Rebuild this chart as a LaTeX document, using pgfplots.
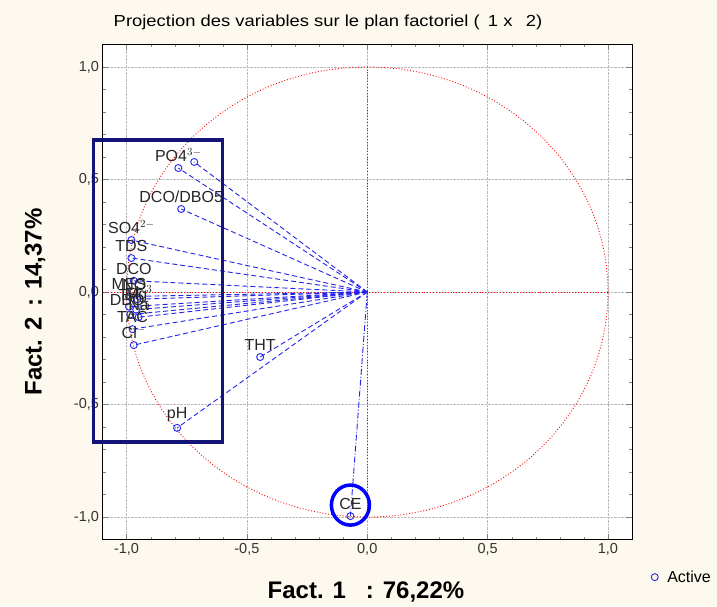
\documentclass[border=0pt]{standalone}
\usepackage{fontspec}
\setmainfont{Liberation Sans}
\usepackage{pgfplots}
\pgfplotsset{compat=1.18}
\definecolor{bgcream}{RGB}{253,249,239}
\definecolor{navy}{RGB}{20,20,120}
\definecolor{pblue}{RGB}{35,35,235}
\begin{document}
\begin{tikzpicture}[x=1pt,y=1pt]
\fill[bgcream] (0,0) rectangle (717,606);
\begin{axis}[
  at={(102.5pt,66.5pt)}, anchor=south west,
  scale only axis, width=529.5pt, height=495pt,
  xmin=-1.1, xmax=1.1, ymin=-1.1, ymax=1.1,
  axis background/.style={fill=white},
  xtick={-1,-0.5,0,0.5,1}, ytick={-1,-0.5,0,0.5,1},
  minor x tick num=4, minor y tick num=4,
  tick align=inside, major tick length=6pt, minor tick length=3pt,
  xtick pos=both, ytick pos=both,
  grid=major, major grid style={densely dotted, gray!55},
  /pgf/number format/.cd, fixed, fixed zerofill, precision=1, use comma, assume math mode=true,
  /pgfplots/.cd,
  ticklabel style={font=\fontsize{14.5}{16}\selectfont, text=black!80},
  clip=false,
  legend style={at={(1.036,-0.076)}, anchor=west, draw=none, fill=none, font=\fontsize{16}{18}\selectfont, inner sep=0pt, column sep=7pt},
  legend cell align=left,
  vec/.style={pblue, line width=0.9pt, dash pattern=on 5pt off 3pt, forget plot},
]
% unit circle and axes through the origin
\draw[red, dotted, line width=0.9pt] (axis cs:0,0) ellipse [x radius=1, y radius=1];
\draw[red, dotted, line width=0.9pt] (axis cs:-1.1,0) -- (axis cs:1,0);
\draw[red, dotted, line width=0.9pt] (axis cs:0,-1) -- (axis cs:0,1);
% vectors from the origin
\addplot[vec] coordinates {(0,0) (-0.785,0.551)};
\addplot[vec] coordinates {(0,0) (-0.719,0.578)};
\addplot[vec] coordinates {(0,0) (-0.773,0.369)};
\addplot[vec] coordinates {(0,0) (-0.980,0.231)};
\addplot[vec] coordinates {(0,0) (-0.980,0.151)};
\addplot[vec] coordinates {(0,0) (-0.970,0.050)};
\addplot[vec] coordinates {(0,0) (-0.990,-0.020)};
\addplot[vec] coordinates {(0,0) (-0.955,-0.032)};
\addplot[vec] coordinates {(0,0) (-0.990,-0.065)};
\addplot[vec] coordinates {(0,0) (-0.960,-0.078)};
\addplot[vec] coordinates {(0,0) (-0.985,-0.100)};
\addplot[vec] coordinates {(0,0) (-0.950,-0.112)};
\addplot[vec] coordinates {(0,0) (-0.975,-0.165)};
\addplot[vec] coordinates {(0,0) (-0.970,-0.236)};
\addplot[vec] coordinates {(0,0) (-0.445,-0.289)};
\addplot[vec] coordinates {(0,0) (-0.790,-0.604)};
\addplot[pblue, line width=0.9pt, dash pattern=on 6pt off 2pt on 1pt off 2pt, forget plot] coordinates {(0,0) (-0.070,-0.996)};
% variables
\addplot[only marks, mark=o, mark size=3.5pt, mark options={line width=0.9pt}, pblue,
  point meta=explicit symbolic,
  nodes near coords,
  nodes near coords style={anchor=south, inner sep=0pt, yshift=6pt, text=black!85, font=\fontsize{16}{18}\selectfont},
] coordinates {
  (-0.785,0.551) [PO4$^{3-}$]
  (-0.719,0.578) []
  (-0.773,0.369) [DCO/DBO5]
  (-0.980,0.231) [SO4$^{2-}$]
  (-0.980,0.151) [TDS]
  (-0.970,0.050) [DCO]
  (-0.990,-0.020) [MES]
  (-0.955,-0.032) [NO$_3$]
  (-0.990,-0.065) [TH]
  (-0.960,-0.078) [Mg]
  (-0.985,-0.100) [DBO$_5$]
  (-0.950,-0.112) [Na]
  (-0.975,-0.165) [TAC]
  (-0.970,-0.236) [Cl$^-$]
  (-0.445,-0.289) [THT]
  (-0.790,-0.604) [pH]
  (-0.070,-0.996) [CE]
};
\addlegendentry{Active}
% highlights
\draw[navy, line width=3.5pt] (axis cs:-1.138,0.676) rectangle (axis cs:-0.602,-0.667);
\draw[blue, line width=3.5pt] (axis cs:-0.07,-0.947) ellipse [x radius=0.079, y radius=0.089];
\end{axis}
\node[font=\fontsize{16}{18}\selectfont, xscale=1.15] at (328,584) {Projection des variables sur le plan factoriel (\, 1 x \, 2)};
\node[font=\bfseries\fontsize{24}{27}\selectfont, rotate=90] at (35,304) {Fact. 2 \,: 14,37\%};
\node[font=\bfseries\fontsize{24}{27}\selectfont] at (366,14) {Fact. 1 \; : 76,22\%};
\pgfresetboundingbox
\path (0,0) rectangle (717,606);
\end{tikzpicture}
\end{document}
